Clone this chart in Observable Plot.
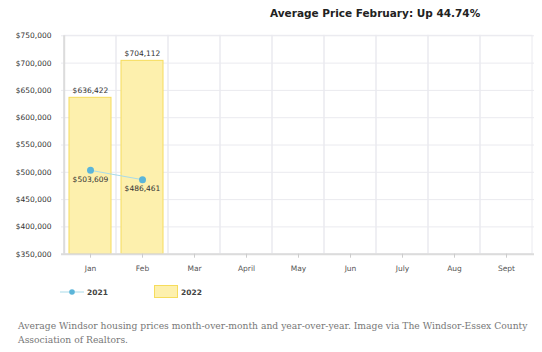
<!DOCTYPE html>
<html>
<head>
<meta charset="utf-8">
<script src="https://cdn.jsdelivr.net/npm/d3@7"></script>
<script src="https://cdn.jsdelivr.net/npm/@observablehq/plot@0.6"></script>
<style>
  html, body { margin: 0; padding: 0; background: #fff; }
  #wrap { position: relative; width: 542px; height: 352px; }
  #chart { position: absolute; left: 0; top: 0; }
  #title { position: absolute; top: 7px; left: 270px; font: bold 10.5px "DejaVu Sans", Verdana, sans-serif; color: #222; white-space: nowrap; }
  #legend { position: absolute; top: 285px; left: 58px; font: bold 7.5px "DejaVu Sans", Verdana, sans-serif; color: #444; }
  .item { position: absolute; display: flex; align-items: center; white-space: nowrap; }
  #caption { position: absolute; top: 319px; left: 18px; width: 524px; font: 9.2px/13.5px "DejaVu Serif", serif; color: #777; }
</style>
</head>
<body>
<div id="wrap">
  <div id="chart"></div>
  <div id="title"></div>
  <div id="legend"></div>
  <div id="caption"></div>
</div>
<script>
const months = ["Jan", "Feb", "Mar", "April", "May", "Jun", "July", "Aug", "Sept"];
const months2021 = ["Jan", "Feb"];
const values2021 = [503609, 486461];
const months2022 = ["Jan", "Feb"];
const values2022 = [636422, 704112];
const yTicks = [350000, 400000, 450000, 500000, 550000, 600000, 650000, 700000, 750000];
const seriesNames = ["2021", "2022"];
const titleText = "Average Price February: Up 44.74%";
const captionText = "Average Windsor housing prices month-over-month and year-over-year. Image via The Windsor-Essex County Association of Realtors.";

const fmt = d => "$" + d3.format(",")(d);
const data2021 = months2021.map((m, i) => ({month: m, value: values2021[i]}));
const data2022 = months2022.map((m, i) => ({month: m, value: values2022[i]}));

const font = "DejaVu Sans, Verdana, sans-serif";

const chart = Plot.plot({
  width: 542,
  height: 280,
  marginLeft: 61,
  marginRight: 8,
  marginTop: 35.3,
  marginBottom: 26.3,
  style: {fontFamily: font, background: "transparent"},
  x: {domain: months, padding: 0, label: null},
  y: {domain: [350000, 750000], label: null},
  marks: [
    Plot.ruleY(yTicks, {stroke: "#eaeaef", strokeWidth: 1}),
    Plot.barY(months, {x: d => d, y1: 350000, y2: 750000, fill: "none", stroke: "#eaeaef", strokeWidth: 1}),
    Plot.barY(data2022, {x: "month", y1: 350000, y2: "value", fill: "#fdf0ad", stroke: "#f6dc5c", strokeWidth: 1, insetLeft: 5, insetRight: 5}),
    Plot.ruleY([350000], {stroke: "#dcdcdc", strokeWidth: 2}),
    Plot.ruleX([months[0]], {dx: -26.3, y1: 350000, y2: 750000, stroke: "#dcdcdc", strokeWidth: 2}),
    Plot.axisX({tickSize: 4, tickPadding: 7, fontSize: 7.5, fill: "#555", stroke: "#ccc"}),
    Plot.axisY(yTicks, {tickSize: 0, tickPadding: 10, fontSize: 7.5, fill: "#333", tickFormat: fmt}),
    Plot.text(data2022, {x: "month", y: "value", text: d => fmt(d.value), dy: -7, fontSize: 7.5, fill: "#333"}),
    Plot.line(data2021, {x: "month", y: "value", stroke: "#a9dbe9", strokeWidth: 1}),
    Plot.dot(data2021, {x: "month", y: "value", r: 3.5, fill: "#5bb5d9", stroke: "none"}),
    Plot.text(data2021, {x: "month", y: "value", text: d => fmt(d.value), dy: 9, fontSize: 7.5, fill: "#333"})
  ]
});
document.getElementById("chart").appendChild(chart);
document.getElementById("title").textContent = titleText;
document.getElementById("caption").textContent = captionText;

const legend = document.getElementById("legend");
legend.innerHTML =
  `<div class="item" style="left:2px;top:2px;"><svg width="24" height="10"><line x1="0" y1="5" x2="24" y2="5" stroke="#a9dbe9" stroke-width="1"/><circle cx="12" cy="5" r="2.8" fill="#5bb5d9"/></svg><span style="margin-left:3px">${seriesNames[0]}</span></div>` +
  `<div class="item" style="left:96px;top:0px;"><svg width="24" height="14"><rect x="0.5" y="0.5" width="23" height="12" fill="#fdf0ad" stroke="#f6dc5c"/></svg><span style="margin-left:3px">${seriesNames[1]}</span></div>`;
</script>
</body>
</html>
